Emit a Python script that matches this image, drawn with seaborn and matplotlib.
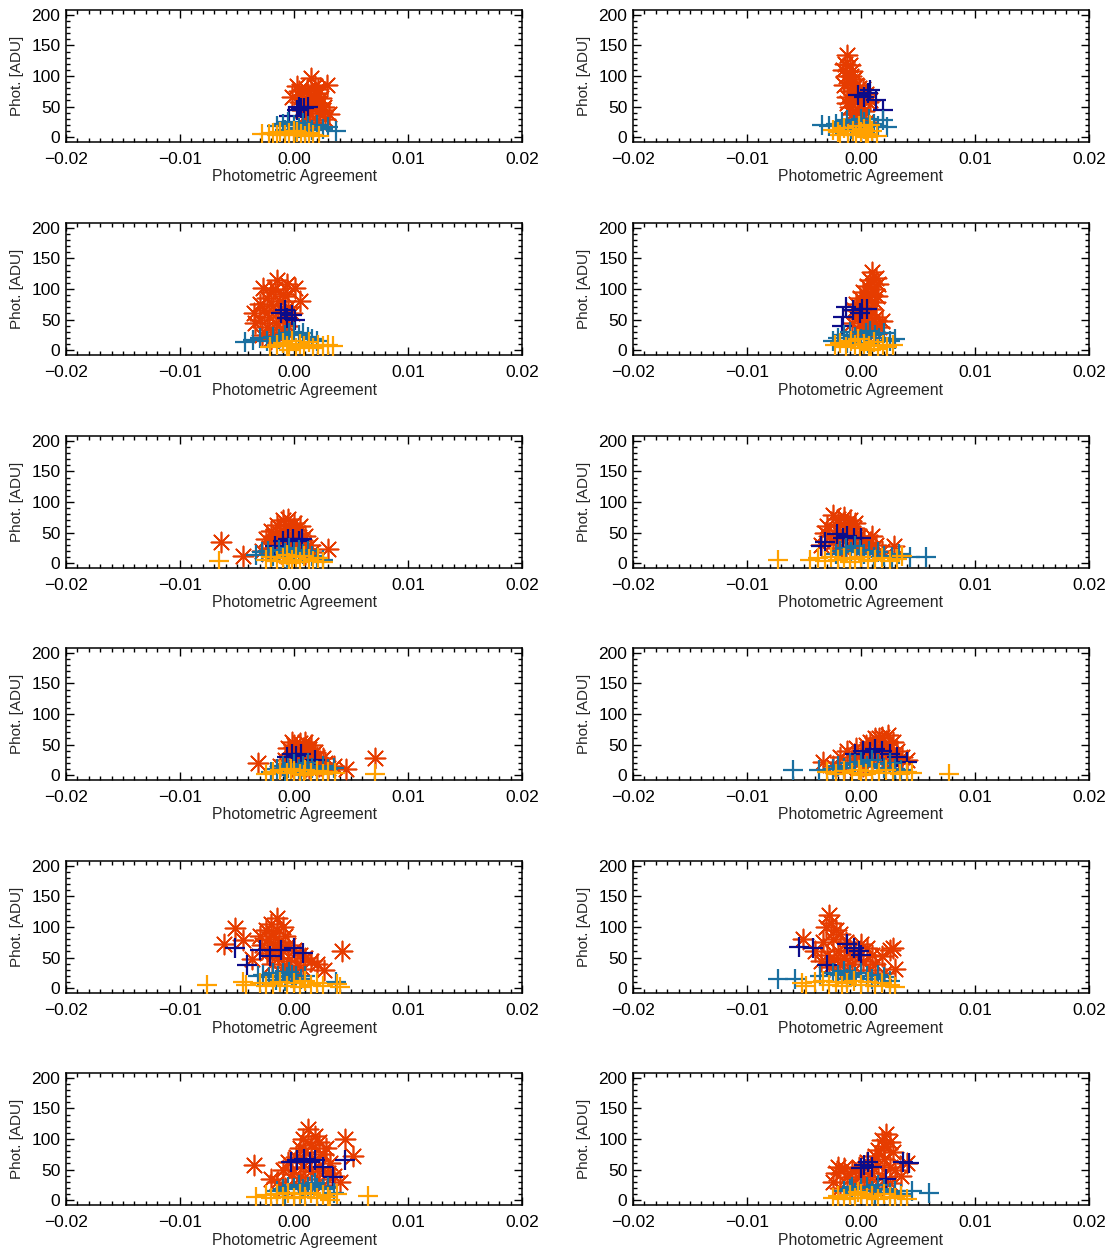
import matplotlib
matplotlib.use("Agg")
import matplotlib.pyplot as plt
from matplotlib.ticker import MultipleLocator
import seaborn as sns
import pandas as pd

# ---------------- data: (Photometric Agreement, Phot. [ADU]) ----------------
# panel order: row-major, 6 rows x 2 columns
red_1 = [(0.0015,96),(0.0029,86),(-0.0002,66),(0.0003,83),(0.0011,77),(0.0020,72),(0.0023,56),(0.0031,37),
         (0.0008,50),(0.0014,39),(0.0020,28),(0.0017,61),(0.0025,45),(0.0006,66),(0.0012,70),(0.0005,58),
         (0.0018,84),(0.0022,40),(0.0009,62),(0.0013,52),(0.0027,30),(0.0016,47),(0.0004,75),(0.0010,35),
         (0.0019,55),(0.0024,64),(0.0007,44),(0.0021,78),(0.0013,25),(0.0026,50)]
blue_1 = [(-0.0004,34),(0.0003,45),(0.0006,48),(0.0009,47),(0.0012,49),(0.0004,50)]
teal_1 = [(-0.0015,18),(-0.0010,22),(-0.0005,25),(0.0000,20),(0.0004,15),(0.0008,23),(0.0012,18),(0.0016,12),
          (0.0020,20),(0.0025,14),(0.0030,16),(0.0037,10),(-0.0008,12),(0.0002,10),(0.0010,12)]
orng_1 = [(-0.0028,5),(-0.0022,5),(-0.0018,6),(-0.0012,8),(-0.0008,4),(-0.0004,6),(0.0000,3),(0.0003,8),
          (0.0006,5),(0.0010,2),(0.0013,6),(0.0017,4),(0.0022,2),(-0.0015,3),(0.0000,10)]

red_2 = [(-0.0012,135),(-0.0014,120),(-0.0010,118),(-0.0016,110),(-0.0008,108),(-0.0013,100),(-0.0006,95),
         (-0.0010,90),(-0.0015,85),(-0.0004,85),(-0.0002,80),(0.0002,78),(-0.0008,75),(0.0004,70),(-0.0012,65),
         (-0.0005,60),(0.0000,55),(0.0006,58),(-0.0010,50),(-0.0003,45),(0.0003,42),(-0.0008,38),(0.0001,32),
         (-0.0005,28),(0.0004,25),(-0.0012,55),(-0.0009,100),(0.0008,60),(-0.0001,68),(-0.0007,30)]
blue_2 = [(-0.0003,69),(0.0003,66),(0.0006,72),(0.0008,77),(0.0013,61),(0.0019,44)]
teal_2 = [(-0.0034,20),(-0.0028,18),(-0.0022,22),(-0.0017,25),(-0.0012,28),(-0.0006,20),(-0.0002,15),(0.0003,25),
          (0.0007,30),(0.0011,22),(0.0015,18),(0.0019,28),(0.0023,17),(-0.0009,14),(0.0000,30)]
orng_2 = [(-0.0025,12),(-0.0020,8),(-0.0015,15),(-0.0011,5),(-0.0007,10),(-0.0004,3),(0.0000,8),(0.0003,14),
          (0.0006,5),(0.0010,10),(0.0014,2),(-0.0018,3),(-0.0002,18),(0.0008,20),(0.0004,0)]

red_3 = [(-0.0015,114),(-0.0027,101),(0.0001,101),(-0.0006,109),(0.0005,81),(-0.0034,44),(-0.0020,95),(-0.0010,92),
         (-0.0024,85),(-0.0012,80),(-0.0030,75),(-0.0018,72),(-0.0005,70),(-0.0026,65),(-0.0014,62),(-0.0022,55),
         (-0.0008,52),(-0.0030,50),(-0.0016,45),(-0.0024,38),(-0.0010,35),(-0.0019,30),(-0.0028,25),(-0.0013,22),
         (-0.0005,40),(-0.0020,18),(-0.0002,60),(-0.0035,60),(-0.0008,88),(-0.0017,100)]
blue_3 = [(-0.0011,60),(-0.0006,53),(-0.0002,57),(-0.0008,65),(0.0001,49)]
teal_3 = [(-0.0043,14),(-0.0036,16),(-0.0030,20),(-0.0024,15),(-0.0018,22),(-0.0013,18),(-0.0008,25),(-0.0004,28),
          (0.0000,30),(0.0004,25),(0.0008,28),(0.0012,22),(0.0016,18),(0.0020,15),(-0.0010,12)]
orng_3 = [(-0.0021,5),(-0.0015,8),(-0.0010,12),(-0.0006,6),(-0.0002,15),(0.0002,3),(0.0005,10),(0.0009,7),
          (0.0013,13),(0.0017,4),(0.0021,9),(0.0025,6),(0.0030,8),(0.0034,7),(-0.0004,1)]

red_4 = [(0.0010,128),(0.0013,118),(0.0008,115),(0.0015,108),(0.0005,105),(0.0011,100),(0.0002,95),(0.0009,92),
         (0.0014,88),(-0.0001,85),(0.0006,82),(0.0012,78),(-0.0004,75),(0.0003,72),(0.0009,68),(-0.0006,65),
         (0.0000,62),(0.0007,58),(0.0013,55),(-0.0003,52),(0.0004,48),(0.0010,45),(-0.0008,45),(0.0001,40),
         (0.0016,38),(0.0006,35),(-0.0002,30),(0.0012,30),(0.0003,28),(0.0018,48)]
blue_4 = [(-0.0017,40),(-0.0016,54),(-0.0013,70),(-0.0007,65),(-0.0001,60),(0.0001,68),(0.0005,68)]
teal_4 = [(-0.0025,15),(-0.0020,20),(-0.0015,25),(-0.0010,30),(-0.0005,22),(0.0000,18),(0.0004,28),(0.0008,32),
          (0.0012,25),(0.0016,20),(0.0020,28),(0.0025,15),(0.0030,18),(-0.0012,12),(0.0006,12)]
orng_4 = [(-0.0023,8),(-0.0018,12),(-0.0013,5),(-0.0009,15),(-0.0005,8),(-0.0001,3),(0.0003,10),(0.0007,6),
          (0.0011,14),(0.0015,2),(0.0019,8),(0.0023,5),(0.0028,9),(-0.0003,18),(0.0009,0)]

red_5 = [(-0.0064,35),(-0.0045,12),(0.0030,23),(-0.0010,70),(-0.0005,72),(0.0000,65),(-0.0015,62),(0.0005,60),
         (-0.0008,58),(-0.0020,52),(0.0003,50),(-0.0012,48),(0.0010,45),(-0.0003,44),(-0.0025,40),(0.0007,38),
         (-0.0017,35),(0.0000,32),(0.0014,30),(-0.0008,28),(-0.0022,25),(0.0004,22),(-0.0013,18),(0.0010,15),
         (-0.0005,12),(-0.0018,45),(0.0002,55),(-0.0003,25),(0.0016,18),(-0.0028,20)]
blue_5 = [(-0.0017,28),(-0.0010,36),(-0.0005,40),(-0.0001,40),(0.0004,36),(0.0007,40)]
teal_5 = [(-0.0033,14),(-0.0028,18),(-0.0023,20),(-0.0018,12),(-0.0013,22),(-0.0008,16),(-0.0004,25),(0.0000,18),
          (0.0004,22),(0.0008,15),(0.0012,20),(0.0016,12),(0.0020,8),(0.0025,5),(-0.0006,8)]
orng_5 = [(-0.0066,3),(-0.0025,5),(-0.0020,10),(-0.0015,3),(-0.0010,8),(-0.0006,14),(-0.0002,5),(0.0002,10),
          (0.0005,2),(0.0009,12),(0.0013,6),(0.0017,3),(0.0021,8),(0.0025,2),(-0.0004,0)]

red_6 = [(-0.0030,60),(-0.0025,78),(-0.0020,72),(-0.0015,75),(-0.0010,70),(-0.0005,65),(-0.0028,45),(-0.0022,55),
         (-0.0018,62),(-0.0012,55),(-0.0007,50),(-0.0002,45),(0.0003,40),(0.0008,35),(0.0013,30),(-0.0035,30),
         (-0.0025,35),(-0.0016,40),(-0.0009,38),(-0.0004,30),(0.0001,25),(0.0006,22),(-0.0020,25),(-0.0013,20),
         (0.0029,28),(0.0018,20),(-0.0032,50),(-0.0006,58),(-0.0011,62),(0.0010,45)]
blue_6 = [(-0.0035,28),(-0.0032,34),(-0.0021,48),(-0.0016,41),(-0.0012,45),(-0.0006,41),(0.0000,41)]
teal_6 = [(-0.0022,15),(-0.0018,20),(-0.0013,25),(-0.0009,18),(-0.0005,28),(-0.0001,22),(0.0003,15),(0.0007,20),
          (0.0011,10),(0.0015,18),(0.0020,12),(0.0027,10),(0.0033,15),(0.0043,10),(0.0057,10)]
orng_6 = [(-0.0073,5),(-0.0045,5),(-0.0038,8),(-0.0032,3),(-0.0026,10),(-0.0020,5),(-0.0015,8),(-0.0010,2),
          (-0.0005,6),(0.0000,10),(0.0006,3),(0.0012,5),(0.0018,8),(0.0025,4),(0.0032,6),(0.0036,12)]

red_7 = [(-0.0032,20),(0.0071,28),(0.0046,10),(-0.0005,45),(0.0000,50),(0.0005,52),(0.0010,55),(0.0015,50),
         (0.0003,40),(0.0008,45),(0.0013,42),(0.0018,38),(-0.0003,35),(0.0006,30),(0.0011,35),(0.0020,30),
         (0.0025,28),(-0.0008,25),(0.0002,22),(0.0009,20),(0.0016,18),(0.0022,15),(0.0030,12),(-0.0012,15),
         (0.0004,10),(0.0013,12),(-0.0002,55),(0.0017,28),(0.0027,20),(0.0035,15)]
blue_7 = [(-0.0006,30),(-0.0002,35),(0.0002,32),(0.0006,35),(0.0018,25)]
teal_7 = [(-0.0020,5),(-0.0015,10),(-0.0010,15),(-0.0005,12),(0.0000,18),(0.0004,10),(0.0008,15),(0.0012,20),
          (0.0016,12),(0.0020,8),(0.0025,15),(0.0030,10),(0.0035,12),(-0.0008,5),(0.0006,5)]
orng_7 = [(-0.0025,2),(-0.0018,5),(-0.0012,8),(-0.0006,3),(0.0000,6),(0.0005,2),(0.0010,8),(0.0015,4),
          (0.0020,6),(0.0025,2),(0.0030,5),(0.0036,3),(0.0071,2),(0.0009,0),(-0.0003,10)]

red_8 = [(-0.0033,22),(-0.0025,15),(-0.0018,30),(-0.0012,40),(-0.0008,25),(-0.0004,45),(0.0000,35),(0.0004,50),
         (0.0008,55),(0.0012,45),(0.0016,60),(0.0020,50),(0.0024,65),(0.0028,55),(0.0032,40),(0.0036,30),
         (0.0006,30),(0.0010,20),(0.0014,35),(0.0018,25),(0.0022,40),(0.0026,30),(0.0030,20),(-0.0002,20),
         (0.0002,15),(0.0012,60),(0.0018,62),(0.0025,45),(-0.0015,12),(0.0040,25)]
blue_8 = [(-0.0005,35),(0.0002,40),(0.0008,38),(0.0012,42),(0.0018,40),(0.0025,35),(0.0032,30),(0.0040,22)]
teal_8 = [(-0.0060,8),(-0.0037,8),(-0.0025,10),(-0.0020,15),(-0.0015,12),(-0.0010,20),(-0.0005,18),(0.0000,22),
          (0.0005,15),(0.0010,25),(0.0015,18),(0.0020,12),(0.0025,20),(0.0030,10),(0.0035,8)]
orng_8 = [(-0.0030,5),(-0.0022,2),(-0.0015,6),(-0.0008,3),(-0.0002,8),(0.0004,2),(0.0010,6),(0.0016,3),
          (0.0022,8),(0.0028,4),(0.0034,2),(0.0040,5),(0.0045,3),(0.0077,2),(0.0000,0)]

red_9 = [(-0.0061,72),(-0.0052,98),(-0.0045,78),(-0.0037,48),(0.0042,60),(0.0026,30),(-0.0015,115),(-0.0020,105),
         (-0.0025,95),(-0.0010,100),(-0.0018,90),(-0.0030,85),(-0.0008,85),(-0.0022,80),(-0.0013,75),(-0.0028,70),
         (-0.0005,70),(-0.0017,65),(-0.0010,60),(0.0000,62),(-0.0024,58),(0.0005,55),(-0.0014,50),(0.0010,50),
         (-0.0005,45),(0.0015,45),(-0.0019,40),(0.0003,38),(0.0020,40),(-0.0010,35),(0.0008,32),(-0.0003,30)]
blue_9 = [(-0.0052,66),(-0.0041,38),(-0.0030,62),(-0.0021,52),(-0.0011,62),(0.0000,66),(0.0008,58)]
teal_9 = [(-0.0032,20),(-0.0027,22),(-0.0022,18),(-0.0018,25),(-0.0014,20),(-0.0010,24),(-0.0006,18),(-0.0002,22),
          (0.0002,20),(0.0006,15),(0.0010,20),(-0.0016,14),(-0.0008,12),(0.0037,10),(-0.0004,26)]
orng_9 = [(-0.0076,5),(-0.0045,10),(-0.0042,5),(-0.0030,8),(-0.0025,3),(-0.0018,6),(-0.0012,10),(-0.0006,3),
          (0.0000,8),(0.0005,2),(0.0010,12),(0.0015,5),(0.0020,8),(0.0025,3),(0.0038,6),(0.0040,2)]

red_10 = [(-0.0051,81),(-0.0028,120),(-0.0026,107),(-0.0031,100),(-0.0022,95),(-0.0018,88),(-0.0033,75),(-0.0025,80),
          (-0.0013,75),(-0.0040,60),(-0.0030,55),(-0.0020,60),(-0.0010,62),(-0.0035,45),(-0.0024,48),(-0.0015,50),
          (-0.0005,55),(0.0000,72),(0.0005,65),(0.0010,55),(-0.0028,35),(-0.0018,38),(-0.0008,40),(0.0002,45),
          (0.0012,40),(0.0018,52),(0.0025,62),(0.0028,65),(0.0030,32),(0.0020,25),(-0.0012,30),(0.0008,30)]
blue_10 = [(-0.0054,68),(-0.0042,65),(-0.0030,38),(-0.0012,72),(-0.0006,65),(-0.0002,60),(0.0000,55)]
teal_10 = [(-0.0073,15),(-0.0058,15),(-0.0036,20),(-0.0025,25),(-0.0020,22),(-0.0015,28),(-0.0010,22),(-0.0005,18),
           (0.0000,25),(0.0005,20),(0.0010,15),(0.0015,22),(0.0020,18),(0.0025,12),(-0.0012,15)]
orng_10 = [(-0.0052,8),(-0.0048,3),(-0.0040,10),(-0.0033,12),(-0.0028,5),(-0.0022,10),(-0.0017,3),(-0.0012,8),
           (-0.0006,12),(0.0000,5),(0.0006,10),(0.0012,3),(0.0018,8),(0.0025,5),(0.0030,2)]

red_11 = [(-0.0035,58),(0.0045,100),(0.0052,72),(0.0012,117),(0.0018,105),(0.0008,100),(0.0022,95),(0.0015,90),
          (0.0028,85),(0.0005,85),(0.0010,78),(0.0025,75),(0.0002,70),(0.0018,68),(0.0032,60),(-0.0005,62),
          (0.0008,55),(0.0022,55),(-0.0010,50),(0.0015,48),(0.0030,45),(-0.0002,42),(0.0005,38),(0.0020,35),
          (-0.0015,30),(0.0010,28),(0.0035,40),(-0.0008,20),(0.0025,25),(0.0040,30),(-0.0020,35)]
blue_11 = [(-0.0003,62),(0.0003,65),(0.0009,68),(0.0014,62),(0.0018,65),(0.0025,55),(0.0034,38),(0.0045,65)]
teal_11 = [(-0.0015,15),(-0.0010,18),(-0.0005,22),(0.0000,20),(0.0004,25),(0.0008,18),(0.0012,22),(0.0016,25),
           (0.0020,20),(0.0025,18),(0.0030,22),(0.0035,12),(-0.0008,10),(0.0006,12),(0.0018,28)]
orng_11 = [(-0.0033,5),(-0.0025,8),(-0.0020,3),(-0.0015,10),(-0.0010,5),(-0.0005,12),(0.0000,3),(0.0005,10),
           (0.0010,5),(0.0015,12),(0.0020,3),(0.0025,8),(0.0030,5),(0.0038,10),(0.0065,6),(0.0032,0)]

red_12 = [(0.0022,108),(0.0018,98),(0.0025,95),(0.0020,88),(0.0015,82),(0.0028,78),(0.0012,72),(0.0020,68),
          (0.0005,62),(0.0015,58),(0.0025,55),(-0.0020,55),(-0.0015,52),(-0.0022,45),(-0.0008,48),(0.0000,45),
          (0.0010,45),(0.0030,50),(-0.0025,30),(-0.0012,38),(0.0003,35),(0.0018,38),(0.0035,40),(-0.0005,30),
          (0.0008,25),(0.0025,28),(-0.0018,20),(0.0013,20),(0.0040,60),(-0.0002,55)]
blue_12 = [(0.0000,52),(0.0003,58),(0.0006,62),(0.0010,55),(0.0022,35),(0.0037,62),(0.0042,60)]
teal_12 = [(-0.0015,15),(-0.0010,18),(-0.0005,12),(0.0000,20),(0.0005,22),(0.0010,15),(0.0015,25),(0.0020,18),
           (0.0025,12),(0.0030,15),(0.0035,10),(0.0045,15),(0.0060,12),(-0.0008,22),(0.0012,10)]
orng_12 = [(-0.0025,3),(-0.0020,6),(-0.0015,2),(-0.0010,8),(-0.0005,4),(0.0000,10),(0.0005,3),(0.0010,7),
           (0.0015,2),(0.0020,10),(0.0025,5),(0.0030,3),(0.0035,6),(0.0040,2),(-0.0003,14)]

panels = [
    (red_1, blue_1, teal_1, orng_1), (red_2, blue_2, teal_2, orng_2),
    (red_3, blue_3, teal_3, orng_3), (red_4, blue_4, teal_4, orng_4),
    (red_5, blue_5, teal_5, orng_5), (red_6, blue_6, teal_6, orng_6),
    (red_7, blue_7, teal_7, orng_7), (red_8, blue_8, teal_8, orng_8),
    (red_9, blue_9, teal_9, orng_9), (red_10, blue_10, teal_10, orng_10),
    (red_11, blue_11, teal_11, orng_11), (red_12, blue_12, teal_12, orng_12),
]

x_ticks = [-0.02, -0.01, 0.0, 0.01, 0.02]
x_ticklabels = ["\u22120.02", "\u22120.01", "0.00", "0.01", "0.02"]
y_ticks = [0, 50, 100, 150, 200]
x_label = "Photometric Agreement"
y_label = "Phot. [ADU]"

# ---------------- style ----------------
sns.set_theme(style="ticks")
plt.rcParams["font.family"] = ["Liberation Sans", "DejaVu Sans"]
plt.rcParams["axes.linewidth"] = 1.1

RED = "#E63C00"
NAVY = "#0C0C8A"
TEAL = "#1A6FA0"
ORANGE = "#FFA100"

# (colour, marker, size, linewidth)
series_style = [
    (RED, (8, 2, 0), 210, 1.2),
    (NAVY, "+", 200, 1.6),
    (TEAL, "+", 200, 1.6),
    (ORANGE, "+", 200, 1.6),
]

W, H = 1110, 1250
fig = plt.figure(figsize=(W / 100, H / 100), dpi=100)

lefts_px = [66, 633]
tops_px = [10, 223, 436, 648, 861, 1073]
aw_px, ah_px = 456, 132

for i, series in enumerate(panels):
    r, c = divmod(i, 2)
    ax = fig.add_axes([lefts_px[c] / W, 1 - (tops_px[r] + ah_px) / H, aw_px / W, ah_px / H])
    for pts, (col, mk, sz, lw) in zip(series, series_style):
        df = pd.DataFrame(pts, columns=["x", "y"])
        sns.scatterplot(data=df, x="x", y="y", ax=ax, marker=mk, s=sz, color=col,
                        linewidth=lw, edgecolor=col, legend=False, zorder=3)
    ax.set_xlim(-0.02, 0.02)
    ax.set_ylim(-8, 208)
    ax.set_xticks(x_ticks)
    ax.set_xticklabels(x_ticklabels)
    ax.set_yticks(y_ticks)
    ax.xaxis.set_minor_locator(MultipleLocator(0.001))
    ax.yaxis.set_minor_locator(MultipleLocator(10))
    ax.tick_params(which="both", direction="in", top=True, right=True, colors="black",
                   labelsize=12.5, width=1.0)
    ax.tick_params(axis="x", which="major", pad=7)
    ax.tick_params(axis="y", which="major", pad=4)
    ax.tick_params(which="major", length=6)
    ax.tick_params(which="minor", length=3)
    ax.set_xlabel(x_label, fontsize=11.3, labelpad=2)
    ax.set_ylabel(y_label, fontsize=11, labelpad=5)
    for sp in ax.spines.values():
        sp.set_color("black")

fig.savefig("out.png", dpi=100)
